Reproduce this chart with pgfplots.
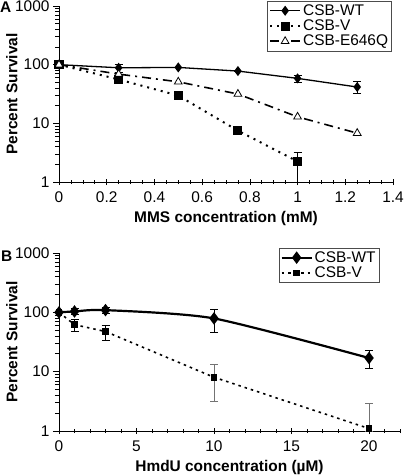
\documentclass[border=0pt]{standalone}
\usepackage{pgfplots}
\pgfplotsset{compat=1.18}
\usepackage{fontspec}
\setmainfont{Liberation Sans}
\newcommand{\fs}{\fontsize{15.5}{17}\selectfont}
\begin{document}
\begin{tikzpicture}[font=\fs]
\useasboundingbox (0,0) rectangle (406bp,-476bp);
\pgfplotsset{
  every axis/.append style={
    scale only axis,
    axis lines*=left,
    font=\fs,
    ymode=log, ymin=1, ymax=1000,
    ytick={1,10,100,1000}, yticklabels={1,10,100,1000},
    minor ytick={2,3,4,5,6,7,8,9,20,30,40,50,60,70,80,90,200,300,400,500,600,700,800,900},
    /pgf/number format/assume math mode=true,
    tick label style={font=\fs},
    xticklabel style={yshift=-3bp},
    xtick align=center, ytick align=outside,
    major tick length=6bp, minor tick length=4bp,
    tick style={black, line width=0.7bp},
    axis line style={black, line width=0.8bp},
    legend cell align=left,
    legend style={draw=black!70, line width=0.8bp, font=\fs, inner sep=1.5bp, row sep=-1bp},
    legend image code/.code={\draw[mark repeat=2,mark phase=2,#1] plot coordinates {(0bp,0bp) (15bp,0bp) (30bp,0bp)};},
    xlabel style={font=\bfseries\fs, anchor=center},
    ylabel style={font=\bfseries\fs, anchor=center},
  },
  ebar/.style={error bars/.cd, y dir=both, y explicit, error mark options={rotate=90, mark size=4bp, line width=0.8bp, black}, error bar style={black, line width=0.8bp, solid}},
}
% Panel A
\begin{axis}[at={(59bp,-182bp)}, anchor=south west, width=334bp, height=176bp,
  xmin=0, xmax=1.4,
  xtick={0,0.2,0.4,0.6,0.8,1,1.2,1.4}, xticklabels={0,0.2,0.4,0.6,0.8,1,1.2,1.4},
  minor x tick num=3,
  xlabel={MMS concentration (mM)}, ylabel={Percent Survival},
  xlabel style={at={(axis description cs:0.5,-0.21)}},
  ylabel style={at={(axis description cs:-0.141,0.5)}},
  legend style={at={(0.997,1.03)}, anchor=north east},
]
\addplot[black, line width=1.3bp, mark=diamond*, mark size=4bp, mark options={solid, fill=black}, ebar] coordinates {
  (0,100) +- (0,0)
  (0.25,88.5) += (0,12.5) -= (0,13.5)
  (0.5,89.7) +- (0,0)
  (0.75,77.8) +- (0,0)
  (1,58.4) += (0,8.1) -= (0,9.4)
  (1.25,41.6) += (0,9.4) -= (0,8.6)
};
\addlegendentry{CSB-WT}
\addplot[black, line width=2bp, dash pattern=on 2bp off 5bp, mark=square*, mark size=3.5bp, mark options={solid, fill=black}, ebar] coordinates {
  (0,100) +- (0,0)
  (0.25,56) +- (0,0)
  (0.5,29.7) += (0,4) -= (0,4)
  (0.75,7.5) += (0,1) -= (0,1)
  (1,2.24) += (0,0.96) -= (0,1.24)
};
\addlegendentry{CSB-V}
\addplot[black, line width=1.6bp, dash pattern=on 9bp off 5bp on 2bp off 5bp, mark=triangle*, mark size=4.5bp, mark options={solid, fill=white, line width=0.8bp}] coordinates {
  (0,100) (0.25,69) (0.5,51) (0.75,31.6) (1,12.9) (1.25,6.8)
};
\addlegendentry{CSB-E646Q}
\end{axis}
\node[anchor=north west, font=\bfseries\fs, inner sep=0pt] at (0bp,-2bp) {A};
% Panel B
\begin{axis}[at={(59bp,-431bp)}, anchor=south west, width=341bp, height=178bp,
  xmin=0, xmax=22,
  xtick={0,5,10,15,20}, xticklabels={0,5,10,15,20},
  minor xtick={1,2,3,4,6,7,8,9,11,12,13,14,16,17,18,19,21,22},
  xlabel={HmdU concentration (µM)}, ylabel={Percent Survival},
  xlabel style={at={(axis description cs:0.5,-0.205)}},
  ylabel style={at={(axis description cs:-0.138,0.5)}},
  legend style={at={(0.94,1.03)}, anchor=north east},
]
\addplot[black, line width=2.2bp, smooth, tension=0.4, mark=diamond*, mark size=4.5bp, mark options={solid, fill=black}, ebar] coordinates {
  (0,100) +- (0,0)
  (1,103.6) += (0,13) -= (0,12)
  (3,109) += (0,12) -= (0,13)
  (10,79) += (0,34) -= (0,33)
  (20,17) += (0,5.6) -= (0,5.5)
};
\addlegendentry{CSB-WT}
\addplot[black, line width=1.6bp, dash pattern=on 2.5bp off 4bp, mark=square*, mark size=2.6bp, mark options={solid, fill=black}] coordinates {
  (0,100) (1,62) (3,47.5) (10,8.05) (20,1.1)
};
\addlegendentry{CSB-V}
\addplot[draw=none, mark=none, forget plot, ebar] coordinates {
  (1,62) += (0,15) -= (0,15)
  (3,47.5) += (0,13.5) -= (0,13.5)
};
\addplot[draw=none, mark=none, forget plot, error bars/.cd, y dir=both, y explicit, error mark options={rotate=90, mark size=4bp, line width=0.8bp, black!55}, error bar style={black!55, line width=0.9bp, solid}] coordinates {
  (10,8.05) += (0,5.35) -= (0,4.85)
  (20,1.1) += (0,1.8) -= (0,0.1)
};
\end{axis}
\node[anchor=north west, font=\bfseries\fs, inner sep=0pt] at (1bp,-251bp) {B};
\end{tikzpicture}
\end{document}
